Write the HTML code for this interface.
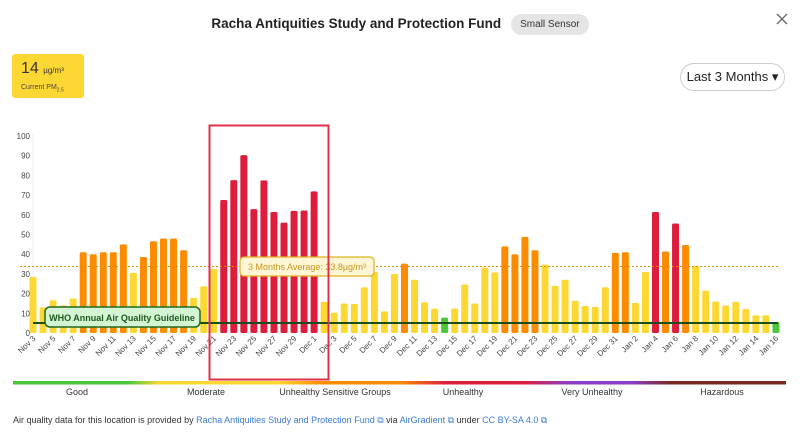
<!DOCTYPE html>
<html><head><meta charset="utf-8"><style>
body{margin:0;width:800px;height:440px;background:#fff;font-family:"Liberation Sans",sans-serif;overflow:hidden;position:relative}
.t{position:absolute;left:0;top:14px;width:800px;text-align:center;font-size:13.5px;font-weight:bold;color:#222}
.pill{display:inline-block;background:#e5e5e5;border-radius:12px;font-size:10px;font-weight:normal;padding:5px 9px;margin-left:10px;color:#333;vertical-align:1px}
.cur{position:absolute;left:12px;top:54px;width:72px;height:44px;background:#fdd835;border-radius:3px}
.btn{position:absolute;left:680px;top:63px;width:103px;height:26px;border:1px solid #ccc;border-radius:14px;font-size:13px;line-height:26px;text-align:center;color:#222}
.ft{position:absolute;left:13px;top:415px;font-size:9px;color:#333}
.ft a{color:#3a7bd5}
</style></head><body>
<div class="t">Racha Antiquities Study and Protection Fund<span class="pill">Small Sensor</span></div>
<svg width="12" height="12" style="position:absolute;left:776px;top:13px"><path d="M1 1L11 11M11 1L1 11" stroke="#666" stroke-width="1.3"/></svg>
<div class="cur"><div style="position:absolute;left:9px;top:6px;font-size:16px;color:#333">14 <span style="font-size:8px">µg/m³</span></div><div style="position:absolute;left:9px;top:30px;font-size:7px;color:#444">Current PM<sub style="font-size:5px">2.5</sub></div></div>
<div class="btn">Last 3 Months ▾</div>
<svg id="s" width="800" height="440" style="position:absolute;left:0;top:0"></svg>
<div class="ft">Air quality data for this location is provided by <a>Racha Antiquities Study and Protection Fund ⧉</a> via <a>AirGradient ⧉</a> under <a>CC BY-SA 4.0 ⧉</a></div>
<script>
var v=[28.5,13,16.6,14,17.5,41,40,41,41,45,30.5,38.6,46.6,48,48,42,17.8,23.7,32.5,67.5,77.6,90.3,62.9,77.5,61.4,56,62,62.2,71.9,15.8,10.3,15,14.7,23.2,31,11,30,35.2,27,15.6,12.4,7.8,12.4,24.6,15,33.2,30.8,44,40,48.8,42,34.7,24,27,16.4,13.7,13.2,23.2,40.7,41,15.3,31,61.4,41.4,55.6,44.7,34,21.5,16,13.9,15.8,12.2,9,9,5.6];
var mon=["Nov","Dec","Jan"],dl=[],m=0,d=3;
for(var i=0;i<75;i++){dl.push(mon[m]+" "+d);d++;if(m==0&&d>30){m=1;d=1}else if(m==1&&d>31){m=2;d=1}}
var s='',y0=333,k=1.97;
for(var t=0;t<=100;t+=10){s+='<text x="30" y="'+(y0-t*k+3)+'" font-size="8" fill="#444" text-anchor="end">'+t+'</text>';}
s+='<line x1="33" y1="134" x2="33" y2="333" stroke="#eee"/>';
for(i=0;i<75;i++){var x=33+i*10.04,h=v[i]*k,c=v[i]<9?'#4cc63a':(v[i]<35&&i!=37)?'#fdd835':v[i]<55?'#fb8c00':'#dc1e3c';
s+='<rect x="'+(x-3.5)+'" y="'+(y0-h)+'" width="7" height="'+h+'" rx="1.5" fill="'+c+'"/>';
if(i%2==0)s+='<text transform="translate('+(x+3)+',339) rotate(-45)" font-size="8" fill="#444" text-anchor="end">'+dl[i]+'</text>';}
s+='<line x1="20" y1="266.5" x2="780" y2="266.5" stroke="#e08a00" stroke-dasharray="2,2"/>';
s+='<line x1="33" y1="323" x2="778" y2="323" stroke="#1b4d1b" stroke-width="2"/>';
s+='<rect x="45" y="307" width="155" height="20" rx="5" fill="#d4f5d4" stroke="#1e6b1e" stroke-width="1.5"/><text x="122" y="321" font-size="9" font-weight="bold" fill="#1e5a1e" text-anchor="middle">WHO Annual Air Quality Guideline</text>';
s+='<rect x="240" y="257" width="134" height="19" rx="4" fill="#fff6d5" stroke="#e0b020" stroke-width="1.2"/><text x="307" y="270" font-size="9" fill="#c8961a" text-anchor="middle">3 Months Average: 33.8µg/m³</text>';
s+='<rect x="209.5" y="125.5" width="119" height="254" fill="none" stroke="#e0314b" stroke-width="2"/>';
s+='<defs><linearGradient id="g"><stop offset="0.15" stop-color="#4cc63a"/><stop offset="0.19" stop-color="#fdd835"/><stop offset="0.34" stop-color="#fdd835"/><stop offset="0.4" stop-color="#fb8c00"/><stop offset="0.5" stop-color="#fb8c00"/><stop offset="0.56" stop-color="#dc1e3c"/><stop offset="0.66" stop-color="#dc1e3c"/><stop offset="0.72" stop-color="#8a3cc8"/><stop offset="0.8" stop-color="#8a3cc8"/><stop offset="0.85" stop-color="#7a2a22"/></linearGradient></defs>';
s+='<rect x="13" y="381" width="773" height="3.5" fill="url(#g)"/>';
var L=["Good","Moderate","Unhealthy Sensitive Groups","Unhealthy","Very Unhealthy","Hazardous"],cx=[77,206,335,463,592,722];
for(i=0;i<6;i++)s+='<text x="'+cx[i]+'" y="395" font-size="9" fill="#333" text-anchor="middle">'+L[i]+'</text>';
document.getElementById('s').innerHTML=s;
</script>
</body></html>
